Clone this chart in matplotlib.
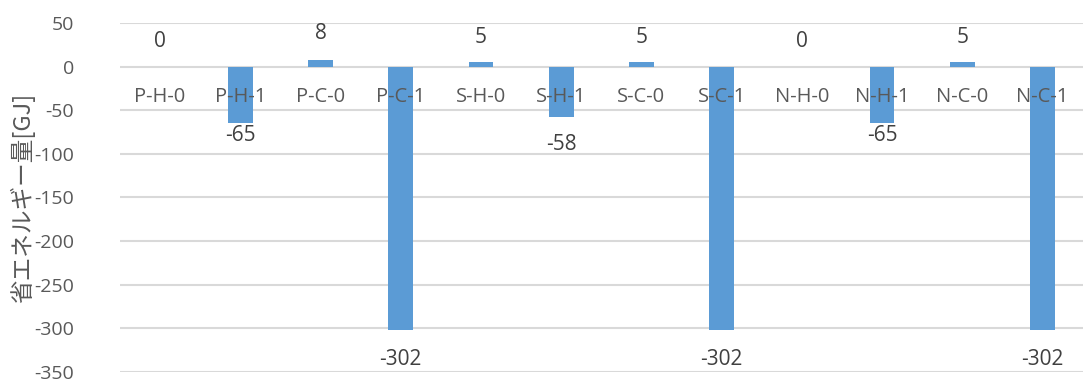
import matplotlib.pyplot as plt

plt.rcParams['font.family'] = ['Open Sans', 'Noto Sans CJK JP', 'DejaVu Sans']

# データ
categories = ['P-H-0', 'P-H-1', 'P-C-0', 'P-C-1', 'S-H-0', 'S-H-1',
              'S-C-0', 'S-C-1', 'N-H-0', 'N-H-1', 'N-C-0', 'N-C-1']
values = [0, -65, 8, -302, 5, -58, 5, -302, 0, -65, 5, -302]
y_ticks = [50, 0, -50, -100, -150, -200, -250, -300, -350]
y_label = '省エネルギー量[GJ]'

# ラベル位置のずれ(pt)
label_offsets = [18, -9, 19, -21, 18, -20, 18, -21, 18, -9, 18, -21]

gray = '#595959'
fig = plt.figure(figsize=(10.84, 3.85), dpi=100)
ax = fig.add_axes([0.1107, 0.0338, 0.888, 0.9065])

x = list(range(len(categories)))
ax.bar(x, values, width=0.31, color='#5b9bd5', zorder=3)

ax.set_ylim(-350, 50)
ax.set_xlim(-0.5, len(categories) - 0.5)
ax.set_yticks(y_ticks)
ax.set_yticklabels([str(t) for t in y_ticks], fontsize=14, color=gray)
ax.set_xticks([])
ax.tick_params(axis='y', length=0, pad=33)
ax.grid(axis='y', color='#d9d9d9', linewidth=1.5, zorder=0)
for s in ax.spines.values():
    s.set_visible(False)

# カテゴリ名(0の線の下)
for i, c in enumerate(categories):
    ax.annotate(c, (i, 0), xytext=(0, -22), textcoords='offset points',
                ha='center', va='center', fontsize=14.5, color=gray, zorder=4)

# データラベル
for i, v in enumerate(values):
    ax.annotate(str(v), (i, v), xytext=(0, label_offsets[i]), textcoords='offset points',
                ha='center', va='center', fontsize=15, color='#404040', zorder=4)

ax.set_ylabel(y_label, fontsize=17, color=gray, family=['Noto Sans CJK JP', 'DejaVu Sans'])
ax.yaxis.set_label_coords(-0.088, 0.5)

fig.savefig('out.png', dpi=100)
